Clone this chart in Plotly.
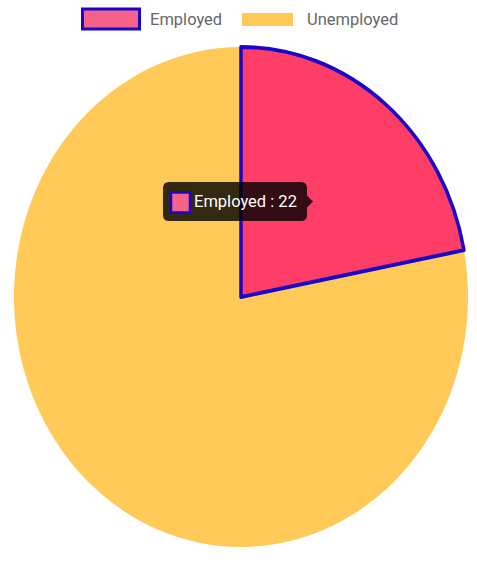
import plotly.graph_objects as go

categories = ["Employed", "Unemployed"]
values = [22, 78]
fill_colors = ["#FF3E67", "#FFCA58"]
legend_fill = ["#F5628A", "#FFC857"]
border_color = "#1A06C8"
tooltip_label = "Employed : 22"

W, H = 477, 562
CX, CY, R = 241, 297, 227          # pie centre / radius in px
RY = 250                           # vertical radius of the (stretched) pie

def px(x):
    return x / W

def py(y):
    return 1 - y / H

total = sum(values)
# draw Unemployed first so the Employed outline sits on top
order = [1, 0]
fig = go.Figure(go.Pie(
    labels=[categories[i] for i in order],
    values=[values[i] for i in order],
    sort=False,
    direction="clockwise",
    rotation=360 * values[0] / total,
    marker=dict(colors=[fill_colors[i] for i in order],
                line=dict(color=[fill_colors[1], border_color], width=[0, 3.5])),
    textinfo="none",
    hoverinfo="none",
    showlegend=False,
    domain=dict(x=[px(CX - R), px(CX + R)], y=[py(CY + R), py(CY - R)]),
))

shapes = []
annotations = []
font = "Roboto, 'Noto Sans', sans-serif"

# custom legend
shapes.append(dict(type="rect", xref="paper", yref="paper",
                   x0=px(82.5), x1=px(139.5), y0=py(9), y1=py(29),
                   fillcolor=legend_fill[0], line=dict(color=border_color, width=3)))
shapes.append(dict(type="rect", xref="paper", yref="paper",
                   x0=px(242), x1=px(293), y0=py(13), y1=py(26),
                   fillcolor=legend_fill[1], line=dict(width=0)))
for label, x in zip(categories, [148, 305]):
    annotations.append(dict(text=label, xref="paper", yref="paper", x=px(x), y=py(19.5),
                            xanchor="left", yanchor="middle", showarrow=False,
                            font=dict(family=font, size=16.5, color="#666666")))

# tooltip
x0, x1, y0, y1, r = 163, 307, 182, 221, 6
cy = (y0 + y1) / 2
pts = [
    f"M {px(x0 + r)} {py(y0)}",
    f"L {px(x1 - r)} {py(y0)}",
    f"Q {px(x1)} {py(y0)} {px(x1)} {py(y0 + r)}",
    f"L {px(x1)} {py(cy - 6)}",
    f"L {px(x1 + 6)} {py(cy)}",
    f"L {px(x1)} {py(cy + 6)}",
    f"L {px(x1)} {py(y1 - r)}",
    f"Q {px(x1)} {py(y1)} {px(x1 - r)} {py(y1)}",
    f"L {px(x0 + r)} {py(y1)}",
    f"Q {px(x0)} {py(y1)} {px(x0)} {py(y1 - r)}",
    f"L {px(x0)} {py(y0 + r)}",
    f"Q {px(x0)} {py(y0)} {px(x0 + r)} {py(y0)}",
    "Z",
]
shapes.append(dict(type="path", xref="paper", yref="paper", path=" ".join(pts),
                   fillcolor="rgba(0,0,0,0.8)", line=dict(width=0), layer="above"))
shapes.append(dict(type="rect", xref="paper", yref="paper",
                   x0=px(171), x1=px(190), y0=py(192.5), y1=py(212.5),
                   fillcolor=legend_fill[0], line=dict(color=border_color, width=2.5),
                   layer="above"))
annotations.append(dict(text=tooltip_label, xref="paper", yref="paper", x=px(191.5), y=py(cy),
                        xanchor="left", yanchor="middle", showarrow=False,
                        font=dict(family=font, size=16.5, color="#FFFFFF")))

fig.update_layout(
    width=W, height=H,
    margin=dict(l=0, r=0, t=0, b=0),
    paper_bgcolor="white",
    shapes=shapes,
    annotations=annotations,
)

scale = RY / R
post = (
    "document.body.style.margin='0';"
    "document.body.style.padding='0';"
    "var st=document.createElement('style');"
    f"st.textContent='body{{margin:0;padding:0;overflow:hidden;}}.pielayer{{transform-origin:{CX}px {CY}px;transform:scaleY({scale:.4f});}}';"
    "document.head.appendChild(st);"
)
fig.write_html("out.html", post_script=post, config={"displayModeBar": False})
